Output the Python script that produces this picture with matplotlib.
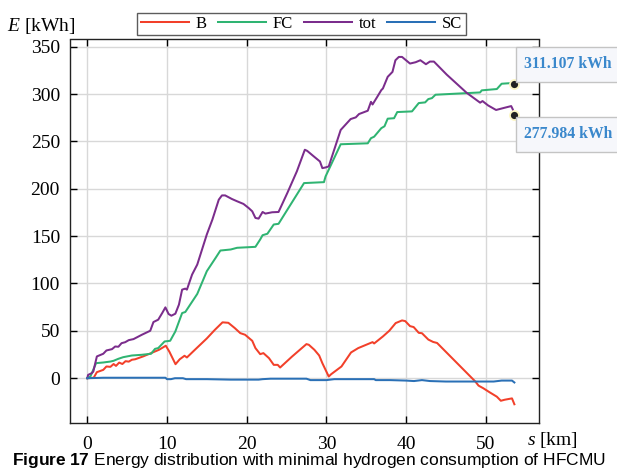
import matplotlib
matplotlib.use("Agg")
import matplotlib.pyplot as plt
from matplotlib.patches import Rectangle
from matplotlib.transforms import IdentityTransform

plt.rcParams["font.family"] = ["Liberation Serif", "DejaVu Serif"]
plt.rcParams["mathtext.fontset"] = "custom"
plt.rcParams["mathtext.it"] = "Liberation Serif:italic"
plt.rcParams["mathtext.rm"] = "Liberation Serif"
plt.rcParams["mathtext.bf"] = "Liberation Sans:bold"

# Battery energy B [kWh] vs distance s [km]
b_s = [0.0, 0.8, 1.2, 2.0, 2.4, 2.9, 3.3, 3.6, 4.0, 4.4, 4.8, 5.2, 5.6, 6.0, 7.0, 8.0, 9.0, 9.85,
       10.3, 11.07, 11.6, 12.2, 12.5, 13.5, 15.0, 16.0, 16.97, 17.7, 18.5, 19.2, 19.8, 20.7, 21.1,
       21.7, 22.1, 22.8, 23.4, 23.9, 24.2, 25.7, 27.5, 27.8, 28.5, 29.1, 29.5, 30.3, 30.6, 31.9,
       33.1, 34.0, 35.0, 35.8, 36.0, 37.1, 37.9, 38.7, 39.5, 39.9, 40.5, 40.96, 41.6, 42.0, 42.8,
       43.4, 43.9, 48.7, 49.1, 49.7, 50.5, 51.4, 51.9, 52.4, 53.3, 53.6]
b_e = [0.0, 0.5, 6.4, 8.8, 12.4, 12.0, 15.0, 13.0, 16.5, 15.0, 18.0, 17.5, 19.5, 20.0, 23.0, 26.5, 30.0, 34.3,
       28.0, 14.8, 20.0, 23.7, 21.9, 30.0, 42.0, 51.0, 59.0, 58.5, 53.0, 47.6, 45.9, 39.5, 31.8,
       25.4, 26.5, 21.2, 14.1, 14.1, 11.3, 22.9, 36.0, 35.3, 30.0, 24.0, 15.9, 1.8, 4.2, 12.4,
       27.2, 31.8, 35.3, 38.1, 36.7, 44.1, 50.1, 58.2, 61.0, 60.3, 55.0, 54.0, 47.9, 47.5, 40.8,
       38.3, 37.2, -3.5, -7.8, -10.6, -14.9, -19.5, -23.8, -22.7, -21.3, -27.5]

# Fuel cell energy FC [kWh]
fc_s = [0.0, 0.4, 1.1, 2.0, 2.9, 3.3, 3.9, 4.5, 5.6, 6.8, 8.0, 8.5, 8.9, 9.7, 10.4, 11.05, 11.9,
        12.3, 13.8, 15.0, 16.1, 16.7, 18.0, 18.8, 21.1, 21.7, 22.0, 22.6, 23.4, 24.0, 27.2, 29.7,
        29.9, 31.8, 35.2, 35.6, 36.0, 36.9, 37.3, 37.7, 38.5, 38.9, 40.75, 41.6, 42.4, 42.8, 43.25,
        43.7, 49.3, 49.5, 51.4, 52.0, 53.25, 53.6]
fc_e = [0.0, 2.0, 15.9, 16.6, 17.6, 18.4, 20.5, 22.2, 24.0, 24.7, 25.8, 31.0, 31.8, 38.8, 39.5, 49.4, 68.8,
        69.9, 89.0, 113.0, 127.0, 134.8, 135.9, 137.7, 138.7, 146.5, 151.0, 152.5, 162.3, 163.0, 206.0, 207.0,
        213.0, 247.0, 248.0, 253.4, 255.0, 264.0, 266.0, 274.0, 274.5, 281.0, 281.7, 290.5, 291.2, 294.7, 295.7,
        299.3, 301.7, 303.9, 305.3, 310.9, 311.6, 311.107]

# Total energy tot [kWh]
tot_s = [0.0, 0.1, 0.55, 0.75, 1.2, 2.0, 2.4, 3.1, 3.5, 3.9, 4.3, 4.75, 5.2, 5.8, 6.85, 7.9, 8.3,
         8.9, 9.4, 9.8, 10.2, 10.55, 11.05, 11.5, 11.9, 12.3, 12.5, 13.15, 13.8, 15.0, 15.7, 16.5,
         16.9, 17.3, 18.15, 18.8, 19.6, 20.25, 20.7, 21.1, 21.5, 22.0, 22.35, 23.2, 24.0, 25.1, 26.3,
         27.3, 27.6, 28.45, 29.2, 29.5, 29.9, 30.3, 31.8, 33.05, 33.7, 34.1, 35.2, 35.6, 35.8, 36.4,
         36.9, 37.1, 37.7, 38.3, 38.67, 39.1, 39.5, 39.9, 40.5, 41.2, 41.8, 42.5, 43.0, 43.5, 45.1,
         47.6, 49.3, 49.6, 50.3, 51.3, 52.4, 53.2, 53.4, 53.6]
tot_e = [0.0, 3.5, 5.3, 7.0, 23.0, 25.8, 29.3, 30.7, 33.5, 33.2, 37.0, 38.0, 40.2, 41.3, 45.9, 50.1, 59.3,
         61.8, 68.8, 74.8, 67.8, 66.0, 68.1, 77.7, 93.5, 94.6, 93.5, 109.4, 120.0, 151.8, 167.5, 188.5,
         193.0, 193.0, 189.2, 186.8, 184.0, 179.7, 176.2, 169.2, 168.5, 175.5, 173.8, 175.2, 175.5, 195.5, 218.4,
         241.2, 240.0, 234.0, 228.8, 221.8, 222.5, 223.6, 262.1, 273.6, 275.4, 278.9, 282.4, 291.8, 289.0, 297.2,
         304.2, 305.9, 318.2, 323.4, 335.7, 339.2, 339.2, 336.4, 332.2, 333.6, 335.7, 331.5, 334.3, 334.3, 320.6,
         301.4, 290.9, 292.6, 288.0, 283.2, 285.6, 287.3, 283.8, 277.984]

# Supercapacitor energy SC [kWh]
sc_s = [0.0, 2.0, 5.0, 9.8, 10.0, 10.5, 11.0, 12.0, 12.4, 15.0, 18.0, 20.0, 21.5, 22.0, 23.0, 25.0,
        27.5, 28.0, 30.0, 31.0, 35.0, 36.0, 36.2, 38.0, 40.0, 41.0, 42.0, 43.0, 45.0, 48.0, 51.0,
        52.0, 53.3, 53.6]
sc_e = [0.0, 0.5, 0.5, 0.5, -1.0, -1.0, 0.0, 0.0, -1.0, -1.0, -1.5, -1.5, -1.5, -1.0, -0.5, -0.5,
        -0.5, -2.0, -2.0, -1.0, -1.0, -1.0, -2.0, -2.0, -2.5, -3.0, -2.0, -3.0, -3.5, -3.5, -3.5,
        -2.5, -2.5, -4.5]

x_ticks = [0, 10, 20, 30, 40, 50]
y_ticks = [0, 50, 100, 150, 200, 250, 300, 350]

W, H = 617, 474
fig = plt.figure(figsize=(W / 100, H / 100), dpi=100)
ax = fig.add_axes([69.7 / W, 1 - 423.3 / H, (539 - 69.7) / W, (423.3 - 39.5) / H])

ax.plot(b_s, b_e, color="#f2402a", lw=1.45, label="B")
ax.plot(fc_s, fc_e, color="#2fb472", lw=1.45, label="FC")
ax.plot(tot_s, tot_e, color="#7b2d8c", lw=1.45, label="tot")
ax.plot(sc_s, sc_e, color="#2a70b6", lw=1.45, label="SC")

ax.set_xlim(-2.21, 56.69)
ax.set_ylim(-47.6, 357.6)
ax.set_xticks(x_ticks)
ax.set_yticks(y_ticks)
ax.set_xticklabels([str(v) for v in x_ticks])
ax.set_yticklabels([str(v) for v in y_ticks])
ax.grid(True, color="#d8d8d8", lw=1.0)
ax.set_axisbelow(True)
ax.tick_params(direction="in", top=True, right=True, length=5, width=1,
               labelsize=14, colors="black")
ax.tick_params(axis="x", pad=9)
ax.tick_params(axis="y", pad=7)
for lbl in ax.get_xticklabels() + ax.get_yticklabels():
    lbl.set_fontfamily("Liberation Serif")
for sp in ax.spines.values():
    sp.set_linewidth(1.0)
    sp.set_color("#222222")

# End-point data tips
fig.canvas.draw()
tips = [(fc_s[-1], fc_e[-1], +1), (tot_s[-1], tot_e[-1], -1)]
for sx, sy, side in tips:
    px, py = ax.transData.transform((sx, sy))
    bw, bh = 110, 35
    by = py + 2 if side > 0 else py - 2 - bh
    fig.add_artist(Rectangle((px + 1.5, by), bw, bh, transform=IdentityTransform(),
                             facecolor="#f6f7fb", edgecolor="#c4c4c4", lw=1.0,
                             clip_on=False, zorder=5))
    fig.text((px + 10) / W, (by + bh / 2) / H, f"{sy:.3f} kWh",
             transform=fig.transFigure, ha="left", va="center",
             fontsize=11.3, fontweight="bold", color="#3a88cc", zorder=6)
    ax.plot([sx], [sy], "o", ms=6.5, mfc="#222222", mec="#fdf7c4", mew=1.3,
            clip_on=False, zorder=7)

leg = ax.legend(ncol=4, loc="center", bbox_to_anchor=(301.5 / W, 1 - 24 / H),
                bbox_transform=fig.transFigure, frameon=True, fancybox=False,
                edgecolor="#333333", fontsize=12, handlelength=2.9,
                handletextpad=0.4, columnspacing=0.65, borderpad=0.2,
                borderaxespad=0)
leg.get_frame().set_linewidth(1.0)

fig.text(7 / W, 1 - 26 / H, r"$E$ [kWh]", fontsize=14, ha="left", va="center")
fig.text(527 / W, 1 - 440 / H, r"$s$ [km]", fontsize=14, ha="left", va="center")
fig.text(308.5 / W, 1 - 461 / H,
         r"$\bf{Figure\ 17}$ Energy distribution with minimal hydrogen consumption of HFCMU",
         family="Liberation Sans", fontsize=12.5, ha="center", va="center")

fig.savefig("out.png", dpi=100)
